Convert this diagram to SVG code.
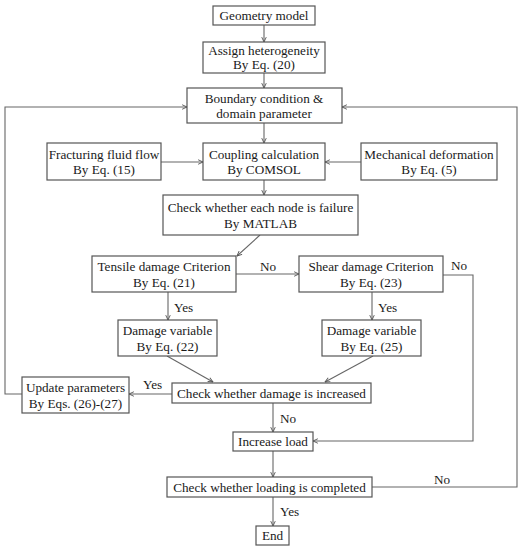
<svg xmlns="http://www.w3.org/2000/svg" width="521" height="550" viewBox="0 0 521 550">
<style>
.b{fill:#fff;stroke:#555;stroke-width:1.2}
text{font-family:'Liberation Serif','Times New Roman',Times,serif;font-size:13.2px;fill:#1a1a1a}
.t{text-anchor:middle}
.c{fill:none;stroke:#666;stroke-width:1.1}
</style>
<defs>
<marker id="a" viewBox="0 0 8 8" refX="7.5" refY="4" markerWidth="6" markerHeight="6" orient="auto" markerUnits="userSpaceOnUse">
<path d="M1,1 L7.5,4 L1,7" fill="none" stroke="#555" stroke-width="1.2"/>
</marker>
</defs>
<rect width="521" height="550" fill="#fff"/>
<g id="connectors">
<path class="c" d="M264,25 V42" marker-end="url(#a)"/>
<path class="c" d="M264,73 V88" marker-end="url(#a)"/>
<path class="c" d="M264,123 V143" marker-end="url(#a)"/>
<path class="c" d="M161,162 H203" marker-end="url(#a)"/>
<path class="c" d="M361,162 H325" marker-end="url(#a)"/>
<path class="c" d="M264,180 V195" marker-end="url(#a)"/>
<path class="c" d="M260,235 L237,256" marker-end="url(#a)"/>
<path class="c" d="M236,274 H299" marker-end="url(#a)"/>
<path class="c" d="M168,292 V320" marker-end="url(#a)"/>
<path class="c" d="M372,292 V320" marker-end="url(#a)"/>
<path class="c" d="M443,275 H473 V441 H313" marker-end="url(#a)"/>
<path class="c" d="M167,356 L213,382" marker-end="url(#a)"/>
<path class="c" d="M373,356 L325,382" marker-end="url(#a)"/>
<path class="c" d="M172,394 H129" marker-end="url(#a)"/>
<path class="c" d="M22,394 H5 V107 H187" marker-end="url(#a)"/>
<path class="c" d="M273,403 V432" marker-end="url(#a)"/>
<path class="c" d="M273,451 V477" marker-end="url(#a)"/>
<path class="c" d="M273,497 V526" marker-end="url(#a)"/>
<path class="c" d="M372,487 H517 V107 H342" marker-end="url(#a)"/>
<text x="260" y="271">No</text>
<text x="451" y="270">No</text>
<text x="174" y="312">Yes</text>
<text x="378" y="312">Yes</text>
<text x="143" y="389">Yes</text>
<text x="280" y="423">No</text>
<text x="434" y="484">No</text>
<text x="280" y="516">Yes</text>
</g>
<g id="geometry"><rect class="b" x="213" y="6" width="102" height="19"/><text class="t" x="264" y="20">Geometry model</text></g>
<g id="assign"><rect class="b" x="203" y="42" width="122" height="31"/><text class="t" x="264" y="54.5">Assign heterogeneity</text><text class="t" x="264" y="69">By Eq. (20)</text></g>
<g id="boundary"><rect class="b" x="187" y="88" width="155" height="35"/><text class="t" x="264" y="102.5">Boundary condition &amp;</text><text class="t" x="264" y="118">domain parameter</text></g>
<g id="fluid"><rect class="b" x="47" y="143" width="114" height="37"/><text class="t" x="104" y="158.5">Fracturing fluid flow</text><text class="t" x="104" y="174">By Eq. (15)</text></g>
<g id="coupling"><rect class="b" x="203" y="143" width="122" height="37"/><text class="t" x="264" y="158.5">Coupling calculation</text><text class="t" x="264" y="174">By COMSOL</text></g>
<g id="mechanical"><rect class="b" x="361" y="143" width="136" height="37"/><text class="t" x="429" y="158.5">Mechanical deformation</text><text class="t" x="429" y="174">By Eq. (5)</text></g>
<g id="check-node"><rect class="b" x="163" y="195" width="195" height="40"/><text class="t" x="260.5" y="211.5">Check whether each node is failure</text><text class="t" x="260.5" y="228">By MATLAB</text></g>
<g id="tensile"><rect class="b" x="92" y="256" width="144" height="36"/><text class="t" x="164" y="271">Tensile damage Criterion</text><text class="t" x="164" y="287">By Eq. (21)</text></g>
<g id="shear"><rect class="b" x="299" y="256" width="144" height="36"/><text class="t" x="371" y="271">Shear damage Criterion</text><text class="t" x="371" y="287">By Eq. (23)</text></g>
<g id="damage1"><rect class="b" x="118" y="320" width="99" height="36"/><text class="t" x="167.5" y="335">Damage variable</text><text class="t" x="167.5" y="351">By Eq. (22)</text></g>
<g id="damage2"><rect class="b" x="322" y="320" width="99" height="36"/><text class="t" x="371.5" y="335">Damage variable</text><text class="t" x="371.5" y="351">By Eq. (25)</text></g>
<g id="update"><rect class="b" x="22" y="377" width="107" height="36"/><text class="t" x="75.5" y="392">Update parameters</text><text class="t" x="75.5" y="408">By Eqs. (26)-(27)</text></g>
<g id="check-damage"><rect class="b" x="172" y="383" width="199" height="20"/><text class="t" x="271.5" y="397.5">Check whether damage is increased</text></g>
<g id="increase"><rect class="b" x="233" y="432" width="80" height="19"/><text class="t" x="273" y="446">Increase load</text></g>
<g id="check-loading"><rect class="b" x="167" y="477" width="205" height="20"/><text class="t" x="269.5" y="491.5">Check whether loading is completed</text></g>
<g id="end"><rect class="b" x="256" y="526" width="33" height="19"/><text class="t" x="272.5" y="540">End</text></g>
</svg>
